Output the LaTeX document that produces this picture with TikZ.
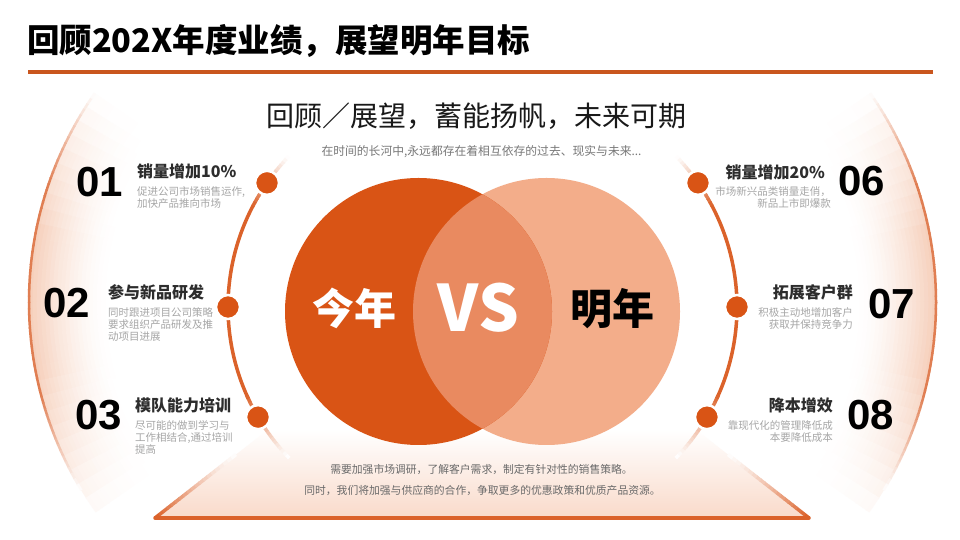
\documentclass[tikz,border=0pt]{standalone}
\usepackage{fontspec}
\setmainfont{Noto Sans CJK SC}
\newfontfamily\numfont{Liberation Sans}
\usetikzlibrary{calc}
\definecolor{mainorange}{RGB}{217,84,21}
\definecolor{lineorange}{RGB}{201,86,30}
\definecolor{arcorange}{RGB}{219,98,42}
\definecolor{lightorange}{RGB}{243,173,138}
\definecolor{midorange}{RGB}{233,138,96}
\definecolor{bandpeach}{RGB}{246,208,188}
\definecolor{tripeach}{RGB}{249,218,202}
\definecolor{outerline}{RGB}{224,126,82}
\definecolor{desccol}{RGB}{166,166,166}
\definecolor{itemtitle}{RGB}{45,45,45}
\definecolor{bottomtext}{RGB}{105,105,105}
\definecolor{subcol}{RGB}{120,120,120}
\begin{document}
\begin{tikzpicture}[x=1pt,y=1pt,
  num/.style={font=\numfont\bfseries\fontsize{42}{42}\selectfont, text=black, inner sep=0pt},
  ititle/.style={font=\bfseries\fontsize{16}{16}\selectfont, text=itemtitle, inner sep=0pt},
  idesc/.style={font=\fontsize{10.5}{12}\selectfont, text=desccol, inner sep=0pt},
  dotnode/.style={circle, fill=mainorange, draw=white, line width=2.5pt, minimum size=24pt, inner sep=0pt},
  arcline/.style={draw=arcorange, line width=3.5pt},
  triline/.style={draw=arcorange, line width=3.5pt, line cap=round},
  venn/.style={circle, minimum size=267pt, inner sep=0pt},
  bigtext/.style={font=\bfseries\fontsize{42}{42}\selectfont, inner sep=0pt},
  bottomline/.style={font=\fontsize{10.8}{10.8}\selectfont, text=bottomtext, inner sep=0pt}
]
\useasboundingbox (0,0) rectangle (960,540);
\fill[white] (0,0) rectangle (960,540);

% centres
\coordinate (oL) at (393,238);
\coordinate (oR) at (572,238);
\coordinate (cL) at (445,233);
\coordinate (cR) at (520,233);

% outer bands (radial and angular fade by colour mixing)
\foreach \a in {145,147.5,...,213} {
  \pgfmathsetmacro\g{max(0,min(1,(\a+1.25-145)/24,(217-\a-1.25)/26))}
  \foreach \k in {0,...,18} {
    \pgfmathsetmacro\r{362-\k*4}
    \pgfmathtruncatemacro\p{100*\g*(1-\k/19)^1.5}
    \ifnum\p>0
      \draw[bandpeach!\p!white, line width=4.6pt] ($(oL)+(\a:\r)$) arc[start angle=\a, end angle=\a+2.8, radius=\r];
      \draw[bandpeach!\p!white, line width=4.6pt] ($(oR)+(180-\a:\r)$) arc[start angle=180-\a, end angle=180-\a-2.8, radius=\r];
    \fi
  }
}
% outer lines
\foreach \a in {145,146,...,212} {
  \pgfmathtruncatemacro\p{100*max(0,min(1,(\a+0.5-145)/16,(211-\a-0.5)/16))}
  \ifnum\p>0
    \draw[outerline!\p!white, line width=2.5pt] ($(oL)+(\a:364)$) arc[start angle=\a, end angle=\a+1.15, radius=364];
    \draw[outerline!\p!white, line width=2.5pt] ($(oR)+(180-\a:364)$) arc[start angle=180-\a, end angle=180-\a-1.15, radius=364];
  \fi
}

% bottom triangle
\coordinate (tA) at (155,22);
\coordinate (tB) at (809,22);
\coordinate (tAu) at (235.5,85);
\coordinate (tBu) at (728.5,85);
\shade[bottom color=tripeach, top color=white] (tA) -- (tB) -- (696.6,110) -- (267.4,110) -- cycle;
\foreach \i in {0,...,19} {
  \pgfmathtruncatemacro\p{100*(1-\i/20)^1.3}
  \pgfmathsetmacro\fa{\i/20}
  \pgfmathsetmacro\fb{(\i+1.15)/20}
  \draw[arcorange!\p!white, line width=3.5pt] ($(tA)!\fa!(tAu)$) -- ($(tA)!\fb!(tAu)$);
  \draw[arcorange!\p!white, line width=3.5pt] ($(tB)!\fa!(tBu)$) -- ($(tB)!\fb!(tBu)$);
}
\draw[triline] (tA) -- (tB);

% title
\node[anchor=west, font=\bfseries\fontsize{32.5}{32.5}\selectfont, inner sep=0pt] (title) at (27,499) {回顾202X年度业绩，展望明年目标};
\coordinate (rl) at (28,468);
\coordinate (rr) at (933,468);
\draw[lineorange, line width=3.5pt] (rl) -- (rr);

% header
\node[font=\fontsize{28}{28}\selectfont, text=black!90, inner sep=0pt] (hdr) at (476,424) {回顾／展望，蓄能扬帆，未来可期};
\node[font=\fontsize{11.8}{11.8}\selectfont, text=subcol, inner sep=0pt] (sub) at (481.5,388) {在时间的长河中,永远都存在着相互依存的过去、现实与未来...};

% venn
\node[venn, fill=lightorange] (vr) at (546.5,228.5) {};
\node[venn, fill=mainorange] (vl) at (418.5,228.5) {};
\begin{scope}
  \clip (vl.center) circle (133.5);
  \fill[midorange] (vr.center) circle (133.5);
\end{scope}
\node[bigtext, text=white] (jn) at (354.5,231.5) {今年};
\node[font=\bfseries\fontsize{64}{64}\selectfont, text=white, inner sep=0pt] (vs) at (478.5,232) {VS};
\node[bigtext, text=black] (mn) at (612.5,231.5) {明年};

% inner arcs
\draw[arcline] ($(cL)+(152:217)$) arc[start angle=152, end angle=205, radius=217];
\draw[arcline] ($(cR)+(28:217)$) arc[start angle=28, end angle=-25, radius=217];
\foreach \a in {136,137,...,151} {
  \pgfmathtruncatemacro\p{100*((\a+0.5-136)/16)^1.2}
  \draw[arcorange!\p!white, line width=3.5pt] ($(cL)+(\a:217)$) arc[start angle=\a, end angle=\a+1.15, radius=217];
  \draw[arcorange!\p!white, line width=3.5pt] ($(cR)+(180-\a:217)$) arc[start angle=180-\a, end angle=180-\a-1.15, radius=217];
}
\foreach \a in {204,205,...,223} {
  \pgfmathtruncatemacro\p{100*((224-\a-0.5)/20)^1.2}
  \draw[arcorange!\p!white, line width=3.5pt] ($(cL)+(\a:217)$) arc[start angle=\a, end angle=\a+1.15, radius=217];
  \draw[arcorange!\p!white, line width=3.5pt] ($(cR)+(180-\a:217)$) arc[start angle=180-\a, end angle=180-\a-1.15, radius=217];
}

% dots
\node[dotnode] (d1) at ($(cL)+(145.1:217)$) {};
\node[dotnode] (d2) at ($(cL)+(180:217)$) {};
\node[dotnode] (d3) at ($(cL)+(210.5:217)$) {};
\node[dotnode] (d6) at ($(cR)+(34.9:217)$) {};
\node[dotnode] (d7) at ($(cR)+(0:217)$) {};
\node[dotnode] (d8) at ($(cR)+(-30.5:217)$) {};

% left items
\node[num, anchor=east] (n1) at (123,357.5) {01};
\node[ititle, anchor=west] (t1) at (137,369) {销量增加10\%};
\node[idesc, anchor=west, align=left] (s1) at (137,342.5) {促进公司市场销售运作,\\加快产品推向市场};

\node[num, anchor=east] (n2) at (90,237) {02};
\node[ititle, anchor=west] (t2) at (108,248) {参与新品研发};
\node[idesc, anchor=west, align=left] (s2) at (108,215.5) {同时跟进项目公司策略\\要求组织产品研发及推\\动项目进展};

\node[num, anchor=east] (n3) at (122,125) {03};
\node[ititle, anchor=west] (t3) at (135,135) {模队能力培训};
\node[idesc, anchor=west, align=left] (s3) at (135,102.5) {尽可能的做到学习与\\工作相结合,通过培训\\提高};

% right items
\node[num, anchor=west] (n6) at (838,358.5) {06};
\node[ititle, anchor=east] (t6) at (825,368) {销量增加20\%};
\node[idesc, anchor=east, align=right] (s6) at (831,342.5) {市场新兴品类销量走俏，\\新品上市即爆款};

\node[num, anchor=west] (n7) at (868,236) {07};
\node[ititle, anchor=east] (t7) at (853,248) {拓展客户群};
\node[idesc, anchor=east, align=right] (s7) at (853,221.5) {积极主动地增加客户\\获取并保持竞争力};

\node[num, anchor=west] (n8) at (847,125) {08};
\node[ititle, anchor=east] (t8) at (833,135) {降本增效};
\node[idesc, anchor=east, align=right] (s8) at (833,108.5) {靠现代化的管理降低成\\本要降低成本};

% bottom text
\node[bottomline] (b1) at (481.5,71) {需要加强市场调研，了解客户需求，制定有针对性的销售策略。};
\node[bottomline] (b2) at (482.5,50) {同时，我们将加强与供应商的合作，争取更多的优惠政策和优质产品资源。};
\end{tikzpicture}
\end{document}
